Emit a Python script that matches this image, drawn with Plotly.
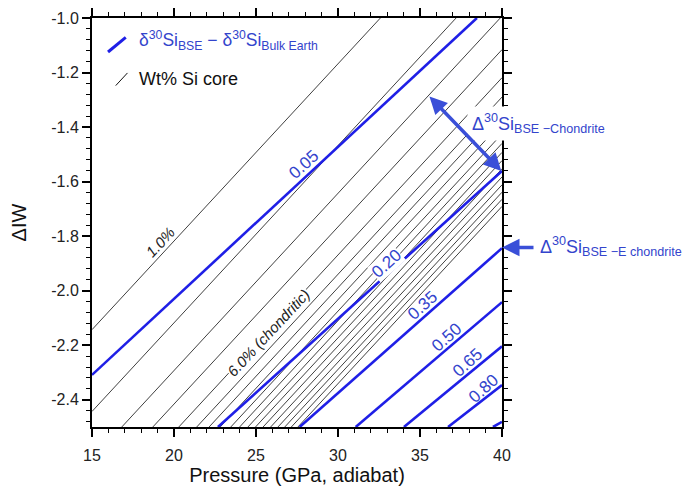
import plotly.graph_objects as go

# ---------------- data ----------------
# Wt% Si core contours (black): value of dIW at P=15 and P=40 (extrapolated ends, clipped by axes)
si_wt = [1, 2, 3, 4, 5, 6, 7, 8, 9, 10, 11, 12, 13, 14, 15, 16, 17, 18]
si_p_ends = [15, 40]
si_dIW_at_15 = [-2.143, -2.443, -2.618, -2.741, -2.844, -2.915, -2.964, -3.008, -3.050,
                -3.085, -3.118, -3.148, -3.178, -3.208, -3.237, -3.264, -3.290, -3.316]
si_dIW_at_40 = [-0.518, -0.818, -0.993, -1.116, -1.219, -1.290, -1.339, -1.383, -1.425,
                -1.460, -1.493, -1.523, -1.553, -1.583, -1.612, -1.639, -1.665, -1.691]

# d30Si(BSE) - d30Si(Bulk Earth) contours (blue): start / end points
d30_labels = ["0.05", "0.20", "0.35", "0.50", "0.65", "0.80", "0.95"]
d30_p_start = [15.0, 22.68, 27.66, 31.08, 34.02, 36.71, 39.45]
d30_iw_start = [-2.309, -2.5, -2.5, -2.5, -2.5, -2.5, -2.5]
d30_p_end = [38.47, 40.0, 40.0, 40.0, 40.0, 40.0, 40.0]
d30_iw_end = [-1.0, -1.561, -1.844, -2.042, -2.204, -2.346, -2.481]

# label positions (data coords) for the blue contours that are labelled
d30_label_p = [27.91, 32.97, 35.16, 36.62, 37.91, 38.88]
d30_label_iw = [-1.536, -1.900, -2.054, -2.171, -2.263, -2.359]

x_ticks = [15, 20, 25, 30, 35, 40]
y_ticks = [-1.0, -1.2, -1.4, -1.6, -1.8, -2.0, -2.2, -2.4]
y_tick_text = ["-1.0", "-1.2", "-1.4", "-1.6", "-1.8", "-2.0", "-2.2", "-2.4"]

BLUE_LINE = "#1f1fe6"
BLUE_TXT = "#3344cc"
FONT = "Arial, Liberation Sans, sans-serif"

fig = go.Figure()

for w, a, b in zip(si_wt, si_dIW_at_15, si_dIW_at_40):
    fig.add_trace(go.Scatter(x=si_p_ends, y=[a, b], mode="lines",
                             line=dict(color="#2a2a2a", width=0.9),
                             hoverinfo="skip", showlegend=False))

for lab, p0, y0, p1, y1 in zip(d30_labels, d30_p_start, d30_iw_start, d30_p_end, d30_iw_end):
    fig.add_trace(go.Scatter(x=[p0, p1], y=[y0, y1], mode="lines",
                             line=dict(color=BLUE_LINE, width=2.6),
                             hoverinfo="skip", showlegend=False))

ann = []
for lab, p, y in zip(d30_labels, d30_label_p, d30_label_iw):
    ann.append(dict(x=p, y=y, xref="x", yref="y", text=lab, showarrow=False,
                    textangle=-42, font=dict(family=FONT, size=17, color=BLUE_TXT),
                    bgcolor="white" if lab == "0.20" else None, borderpad=0))

ann.append(dict(x=19.13, y=-1.822, xref="x", yref="y", text="<i>1.0%</i>", showarrow=False,
                textangle=-47, font=dict(family=FONT, size=15, color="#222")))
ann.append(dict(x=25.77, y=-2.153, xref="x", yref="y", text="<i>6.0% (chondritic)</i>",
                showarrow=False, textangle=-47, bgcolor="white", borderpad=0,
                font=dict(family=FONT, size=15, color="#222")))

# legend texts
ann.append(dict(x=0.1094, y=0.9445, xref="paper", yref="paper", xanchor="left", yanchor="middle",
                text="δ<sup>30</sup>Si<sub>BSE</sub> − δ<sup>30</sup>Si<sub>Bulk Earth</sub>",
                showarrow=False, font=dict(family=FONT, size=17.5, color=BLUE_TXT)))
ann.append(dict(x=0.1094, y=0.8514, xref="paper", yref="paper", xanchor="left", yanchor="middle",
                text="Wt% Si core", showarrow=False, font=dict(family=FONT, size=18, color="#111")))

# right-hand annotations
ann.append(dict(x=0.9145, y=0.7416, xref="paper", yref="paper", xanchor="left", yanchor="middle",
                text="Δ<sup>30</sup>Si<sub>BSE −Chondrite</sub>", showarrow=False,
                bgcolor="white", borderpad=4,
                font=dict(family=FONT, size=18, color=BLUE_TXT)))
ann.append(dict(x=39.96, y=-1.561, xref="x", yref="y", ax=35.49, ay=-1.282, axref="x", ayref="y",
                text="", showarrow=True, arrowhead=2, startarrowhead=2, arrowside="end+start",
                arrowsize=1, startarrowsize=1, arrowwidth=3.5, arrowcolor="#3a4fd8"))
ann.append(dict(x=0.9145 + 0.1735, y=0.4405, xref="paper", yref="paper", xanchor="left",
                yanchor="middle", text="Δ<sup>30</sup>Si<sub>BSE −E chondrite</sub>",
                showarrow=False, font=dict(family=FONT, size=18, color=BLUE_TXT)))
ann.append(dict(x=40, y=-1.842, xref="x", yref="y", ax=33, ay=0, text="", showarrow=True,
                arrowhead=2, arrowsize=1, arrowwidth=3.5, arrowcolor="#3a4fd8"))

shapes = [
    dict(type="line", xref="paper", yref="paper", x0=0.0391, y0=0.9169, x1=0.0823, y1=0.9526,
         line=dict(color=BLUE_LINE, width=3)),
    dict(type="line", xref="paper", yref="paper", x0=0.0579, y0=0.8347, x1=0.0865, y1=0.8657,
         line=dict(color="#111", width=1)),
]

axis_common = dict(showgrid=False, zeroline=False, showline=True, linecolor="black", linewidth=2,
                   mirror="ticks", ticks="outside", tickcolor="black", tickwidth=1.6, ticklen=8,
                   automargin=False,
                   tickfont=dict(family=FONT, size=16, color="#222"))

fig.update_layout(
    width=693, height=490,
    margin=dict(l=92, r=191, t=18, b=63),
    paper_bgcolor="white", plot_bgcolor="white",
    xaxis=dict(range=[15, 40], tickvals=x_ticks, ticklabelstandoff=5,
               minor=dict(tickmode="linear", tick0=15, dtick=1, ticks="outside", ticklen=4,
                          tickcolor="black", tickwidth=1.4),
               title=dict(text="Pressure (GPa, adiabat)", font=dict(family=FONT, size=20, color="#111"),
                          standoff=5),
               **axis_common),
    yaxis=dict(range=[-2.5, -1.0], tickvals=y_ticks, ticktext=y_tick_text,
               minor=dict(tickmode="linear", tick0=-1.0, dtick=0.04, ticks="outside", ticklen=4,
                          tickcolor="black", tickwidth=1.4),
               title=dict(text="ΔIW", font=dict(family=FONT, size=20, color="#111"), standoff=19),
               **axis_common),
    annotations=ann,
    shapes=shapes,
)

fig.write_html("out.html")
